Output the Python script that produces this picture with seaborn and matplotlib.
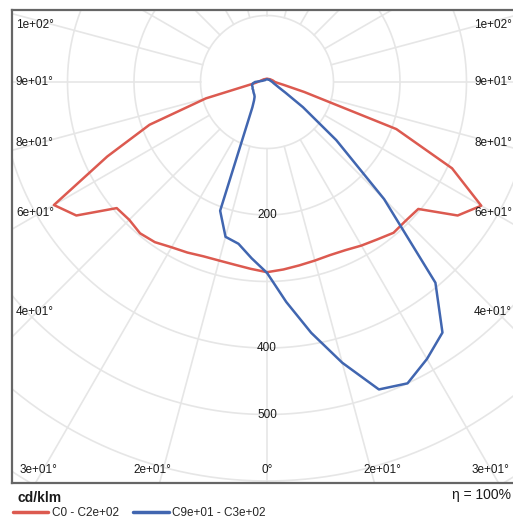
import numpy as np
import pandas as pd
import matplotlib
matplotlib.use('Agg')
import matplotlib.pyplot as plt
import seaborn as sns

# gamma angles (deg from nadir) and intensities in cd/klm per half plane
gamma = [0, 5, 10, 15, 20, 25, 30, 35, 40, 45, 50, 55, 60, 65, 70, 75, 80, 85, 90,
         105, 120, 135, 150, 165, 180]
red_c0 = [286, 283, 280, 278, 277, 279, 284, 289, 296, 295, 297, 350, 372, 307, 207, 58, 26, 16, 12,
          9, 7, 6, 5, 5, 5]
red_c180 = [286, 282, 279, 278, 279, 283, 287, 294, 297, 293, 295, 350, 370, 265, 188, 95, 30, 18, 14,
            9, 7, 6, 5, 5, 5]
blue_c90 = [287, 332, 383, 437, 492, 500, 481, 460, 394, 249, 136, 66, 32, 20, 15, 12, 10, 9, 8,
            6, 5, 5, 4, 4, 4]
blue_c270 = [287, 266, 247, 241, 206, 72, 44, 34, 29, 27, 26, 25, 24, 24, 23, 23, 23, 21, 18,
             7, 5, 4, 4, 4, 4]

legend_labels = ['C0 - C2e+02', 'C9e+01 - C3e+02']
angle_labels = ['0°', '2e+01°', '3e+01°', '4e+01°', '6e+01°', '8e+01°', '9e+01°', '1e+02°']
ring_values = [200, 400, 500]
ring_labels = ['200', '400', '500']

sns.set_style('white')
plt.rcParams['font.family'] = ['Liberation Sans', 'DejaVu Sans']

W, H = 513, 520
fig = plt.figure(figsize=(W / 100, H / 100), dpi=100)
ax = fig.add_axes([12 / W, 37 / H, 510 / W, 473 / H])


def curve(right, left):
    g = np.radians(gamma)
    r1 = np.array(right, dtype=float)
    r2 = np.array(left, dtype=float)
    x = np.concatenate([r1 * np.sin(g), (-r2 * np.sin(g))[::-1]])
    y = np.concatenate([-r1 * np.cos(g), (-r2 * np.cos(g))[::-1]])
    return pd.DataFrame({'x': x, 'y': y})


# polar grid
grid_c = '#e6e6e6'
t = np.linspace(0, 2 * np.pi, 721)
for r in range(100, 900, 100):
    ax.plot(r * np.sin(t), r * np.cos(t), color=grid_c, lw=1.2, zorder=0)
for a in range(0, 360, 15):
    ar = np.radians(a)
    ax.plot([100 * np.sin(ar), 1000 * np.sin(ar)], [-100 * np.cos(ar), -1000 * np.cos(ar)],
            color=grid_c, lw=1.2, zorder=0)

red = '#dc5a50'
blue = '#4166b0'
sns.lineplot(data=curve(red_c0, red_c180), x='x', y='y', sort=False, estimator=None,
             color=red, lw=1.8, ax=ax, zorder=3, label=legend_labels[0])
sns.lineplot(data=curve(blue_c90, blue_c270), x='x', y='y', sort=False, estimator=None,
             color=blue, lw=1.8, ax=ax, zorder=4, label=legend_labels[1])

s = 0.665
ax.set_xlim(-255 / s, 255 / s)
ax.set_ylim(-401 / s, 72 / s)
ax.set_xticks([])
ax.set_yticks([])
ax.set_xlabel('')
ax.set_ylabel('')
for side in ['top', 'left', 'bottom', 'right']:
    ax.spines[side].set_color('#666666')
    ax.spines[side].set_linewidth(1.6)

for v, lab in zip(ring_values, ring_labels):
    ax.text(0, -v, lab, ha='center', va='center', fontsize=8.5, color='#1a1a1a', zorder=5)

txt = dict(fontsize=8.5, color='#1a1a1a', va='center')


def ftext(x, y, s_, **kw):
    fig.text(x / W, 1 - y / H, s_, **kw)


# side labels: 105, 90, 75, 60, 45
side_y = [25, 82, 143, 213, 312]
for lab, yy in zip(angle_labels[7:2:-1], side_y):
    ftext(16, yy, lab, ha='left', **txt)
    ftext(512, yy, lab, ha='right', **txt)
# bottom labels: 0, 15, 30
bottom_dx = [0, 115, 229]
for lab, dx in zip(angle_labels[:3], bottom_dx):
    ftext(267 - dx, 470, lab, ha='center', **txt)
    if dx:
        ftext(min(267 + dx, 490), 470, lab, ha='center', **txt)

ftext(17, 498, 'cd/klm', ha='left', va='center', fontsize=10, fontweight='bold', color='#1a1a1a')
ftext(452, 495, 'η = 100%', ha='left', va='center', fontsize=10, color='#1a1a1a')

handles, labels = ax.get_legend_handles_labels()
if ax.get_legend() is not None:
    ax.get_legend().remove()
leg = fig.legend(handles, labels, loc='center left', bbox_to_anchor=(13 / W, 1 - 513 / H),
                 ncol=2, frameon=False, handlelength=3.0, handletextpad=0.3, columnspacing=1.2,
                 borderpad=0, borderaxespad=0, fontsize=8.5)
for line in leg.get_lines():
    line.set_linewidth(2.5)

fig.savefig('out.png', dpi=100)
